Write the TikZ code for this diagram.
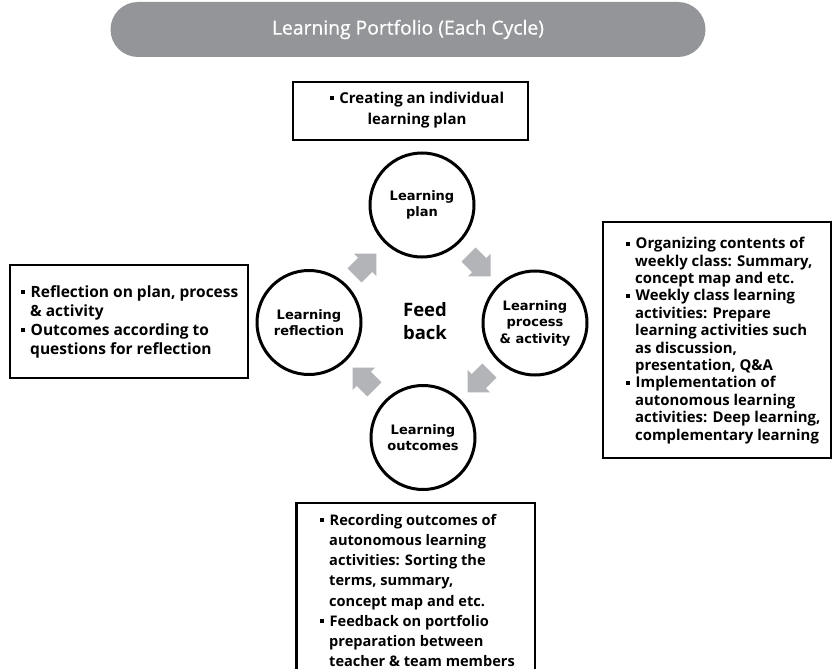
\documentclass[tikz,border=0pt]{standalone}
\usepackage{fontspec}
\setmainfont{Open Sans}
\newfontfamily\circfont{DejaVu Sans}
\newfontfamily\titlefont[FakeBold=0.6]{Open Sans}
\definecolor{pillgray}{RGB}{147,149,152}
\definecolor{arrgray}{RGB}{178,180,183}
\newcommand\bul{\makebox[9.5pt][l]{\rule[3pt]{4pt}{4pt}}}
\newcommand\ind{\hspace*{9pt}}
\begin{document}
\begin{tikzpicture}[x=1pt,y=-1pt,
  boxframe/.style={draw=black, line width=2.3pt, inner sep=0pt},
  boxtext/.style={inner sep=0pt, align=left, anchor=west},
  cyc/.style={circle, draw=black, line width=3pt, minimum size=104pt, inner sep=0pt, align=center,
              font=\circfont\bfseries\fontsize{13}{16.5}\selectfont},
  blockarrow/.pic={\fill[arrgray] (-10.5,-10) -- (4.5,-10) -- (4.5,-16) -- (20.5,0) -- (4.5,16) -- (4.5,10) -- (-10.5,10) -- cycle;}
]
\useasboundingbox (0,0) rectangle (833,669);
\fill[white] (0,0) rectangle (833,669);

% title pill
\node[fill=pillgray, rounded corners=27.5pt, minimum width=595pt, minimum height=55pt, inner sep=0pt,
      text=white, font=\titlefont\fontsize{19.3}{23}\selectfont] (title) at (408,29.5) {Learning Portfolio (Each Cycle)};

% top box
\node[boxframe, minimum width=235pt, minimum height=58pt] (topbox) at (410.5,111) {};
\node[inner sep=0pt, align=center, font=\bfseries\fontsize{15}{21}\selectfont] (toptext) at (417,110)
  {\bul Creating an individual\\learning plan};

% left box
\node[boxframe, minimum width=238pt, minimum height=113pt] (leftbox) at (129,321.5) {};
\node[boxtext, font=\bfseries\fontsize{15.5}{19}\selectfont] (lefttext) at (21,321.5)
  {\bul Reflection on plan, process\\
   \ind \& activity\\
   \bul Outcomes according to\\
   \ind questions for reflection};

% right box
\node[boxframe, minimum width=228pt, minimum height=236pt] (rightbox) at (717,340) {};
\node[boxtext, font=\bfseries\fontsize{14.9}{17.4}\selectfont] (righttext) at (626,340.5)
  {\bul Organizing contents of\\
   \ind weekly class: Summary,\\
   \ind concept map and etc.\\
   \bul Weekly class learning\\
   \ind activities: Prepare\\
   \ind learning activities such\\
   \ind as discussion,\\
   \ind presentation, Q\&A\\
   \bul Implementation of\\
   \ind autonomous learning\\
   \ind activities: Deep learning,\\
   \ind complementary learning};

% bottom box (open at the bottom edge)
\coordinate (bl) at (296.5,669);
\coordinate (br) at (535,669);
\coordinate (tl) at (296.5,503);
\coordinate (tr) at (535,503);
\draw[line width=2.3pt, line join=miter] (bl) -- (tl) -- (tr) -- (br);
\node[boxtext, font=\bfseries\fontsize{14.6}{20.2}\selectfont] (bottomtext) at (320,590.5)
  {\bul Recording outcomes of\\
   \ind autonomous learning\\
   \ind activities: Sorting the\\
   \ind terms, summary,\\
   \ind concept map and etc.\\
   \bul Feedback on portfolio\\
   \ind preparation between\\
   \ind teacher \& team members};

% cycle circles
\node[cyc] (plan) at (422,205) {Learning\\plan};
\node[cyc] (refl) at (309,322.5) {Learning\\reflection};
\node[cyc] (proc) at (535,323) {Learning\\process\\\& activity};
\node[cyc] (outc) at (423,437.5) {Learning\\outcomes};

\node[inner sep=0pt, align=center, font=\bfseries\fontsize{18.5}{23}\selectfont] (feed) at (425,321) {Feed\\back};

% block arrows
\pic[rotate=45] at (362,268) {blockarrow};
\pic[rotate=-45] at (476,262) {blockarrow};
\pic[rotate=-135] at (482,378) {blockarrow};
\pic[rotate=135] at (367,382) {blockarrow};
\end{tikzpicture}
\end{document}
